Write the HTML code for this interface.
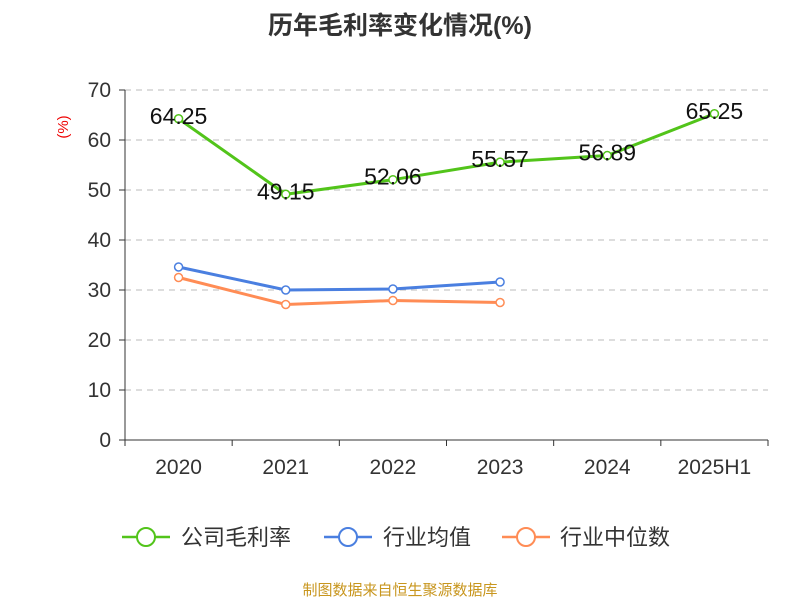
<!DOCTYPE html>
<html><head><meta charset="utf-8"><style>
body{margin:0;background:#fff;width:800px;height:600px;overflow:hidden;font-family:"Liberation Sans","Noto Sans CJK SC",sans-serif}
</style></head><body>
<svg width="800" height="600" xmlns="http://www.w3.org/2000/svg">
<text x="400" y="34" text-anchor="middle" font-size="25" font-weight="bold" fill="#333">历年毛利率变化情况(%)</text>
<text transform="translate(68,127) rotate(-90)" text-anchor="middle" font-size="15" fill="#e00">(%)</text>
<g id="grid"></g><g id="axes"></g><g id="series"></g>
<g>
<g><line x1="122" y1="537" x2="170" y2="537" stroke="#52c41a" stroke-width="2.5"/><circle cx="146" cy="537" r="9" fill="#fff" stroke="#52c41a" stroke-width="2"/><text x="181" y="545" font-size="22" fill="#333">公司毛利率</text></g>
<g><line x1="324" y1="537" x2="372" y2="537" stroke="#4a7fe0" stroke-width="2.5"/><circle cx="348" cy="537" r="9" fill="#fff" stroke="#4a7fe0" stroke-width="2"/><text x="383" y="545" font-size="22" fill="#333">行业均值</text></g>
<g><line x1="502" y1="537" x2="550" y2="537" stroke="#ff8c55" stroke-width="2.5"/><circle cx="526" cy="537" r="9" fill="#fff" stroke="#ff8c55" stroke-width="2"/><text x="560" y="545" font-size="22" fill="#333">行业中位数</text></g>
</g>
<text x="400" y="595" text-anchor="middle" font-size="15" fill="#c8961e">制图数据来自恒生聚源数据库</text>
</svg>
<script>
const categories=["2020","2021","2022","2023","2024","2025H1"];
const grossMargin=[64.25,49.15,52.06,55.57,56.89,65.25];
const industryMean=[34.6,30.0,30.2,31.6];
const industryMedian=[32.5,27.1,27.9,27.5];
const yTicks=[0,10,20,30,40,50,60,70];
const NS="http://www.w3.org/2000/svg";
const x0=125,x1=768,y0=440,y1=90;
const bw=(x1-x0)/categories.length;
const X=i=>x0+bw*(i+0.5);
const Y=v=>y0-(v/70)*(y0-y1);
function mk(t,a,p){const e=document.createElementNS(NS,t);for(const k in a)e.setAttribute(k,a[k]);p.appendChild(e);return e;}
const grid=document.getElementById('grid'),axes=document.getElementById('axes'),ser=document.getElementById('series');
yTicks.forEach(t=>{
 if(t>0){const g=mk('line',{x1:x0,x2:x1,y1:Y(t),y2:Y(t),stroke:'#bbb','stroke-dasharray':'6,5'},grid);
 
 }
 const tk=mk('line',{x1:x0-6,x2:x0,y1:Y(t),y2:Y(t),stroke:'#333'},axes);
 
 
 const l=mk('text',{x:x0-14,y:Y(t)+7,'text-anchor':'end','font-size':21,fill:'#333'},axes);l.textContent=t;
 
 
});
const ya=mk('line',{x1:x0,x2:x0,y1:y1,y2:y0,stroke:'#333'},axes);


const xa=mk('line',{x1:x0,x2:x1,y1:y0,y2:y0,stroke:'#333'},axes);


for(let i=0;i<=categories.length;i++){const t=mk('line',{x1:x0+bw*i,x2:x0+bw*i,y1:y0,y2:y0+6,stroke:'#333'},axes);
 
 }
categories.forEach((c,i)=>{const l=mk('text',{x:X(i),y:y0+34,'text-anchor':'middle','font-size':21,fill:'#333'},axes);l.textContent=c;
 
 });
function series(vals,color,name,labels){
 const p=mk('polyline',{points:vals.map((v,i)=>X(i)+','+Y(v)).join(' '),fill:'none',stroke:color,'stroke-width':3},ser);
 
 
 vals.forEach((v,i)=>{const c=mk('circle',{cx:X(i),cy:Y(v),r:4,fill:'#fff',stroke:color,'stroke-width':1.5},ser);
  
  
  if(labels){const t=mk('text',{x:X(i),y:Y(v)+5,'text-anchor':'middle','font-size':23,fill:'#111'},ser);t.textContent=v.toFixed(2);
  
  }
 });
}
series(industryMedian,'#ff8c55','industry-median',false);
series(industryMean,'#4a7fe0','industry-mean',false);
series(grossMargin,'#52c41a','gross-margin',true);
</script>
</body></html>
